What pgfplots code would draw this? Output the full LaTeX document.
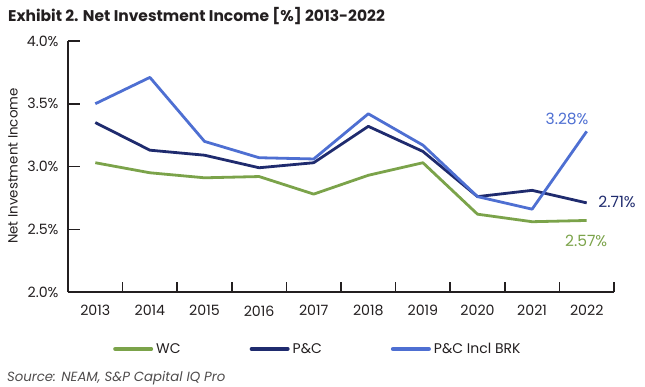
\documentclass[border=0pt]{standalone}
\usepackage{fontspec}
\setmainfont{Poppins}
\usepackage{pgfplots}
\pgfplotsset{compat=1.18}
\definecolor{wcgreen}{HTML}{7BA34A}
\definecolor{pcnavy}{HTML}{1F2B6E}
\definecolor{brkblue}{HTML}{4E6FD2}
\definecolor{txt}{HTML}{231F20}
\begin{document}
\begin{tikzpicture}
\path[use as bounding box] (0,0) rectangle (645pt,-387pt);
\node[anchor=base west, font=\fontsize{15.5}{18}\selectfont\bfseries, text=txt, inner sep=0] at (8pt,-22pt) {Exhibit 2. Net Investment Income [\%] 2013-2022};
\node[rotate=90, font=\fontsize{13.4}{15}\selectfont, text=txt, inner sep=0] at (13pt,-166pt) {Net Investment Income};
\node[anchor=base west, font=\fontsize{13.3}{15}\selectfont\itshape, text=txt!80, inner sep=0] at (7pt,-381pt) {Source: NEAM, S\&P Capital IQ Pro};
\begin{axis}[
  at={(68pt,-292pt)}, anchor=south west,
  scale only axis, width=546pt, height=251pt,
  xmin=-0.5, xmax=9.5, ymin=2.0, ymax=4.0,
  axis x line*=bottom, axis y line*=left,
  axis line style={line width=1.5pt, txt, -},
  xtick={0,...,9},
  xticklabels={2013,2014,2015,2016,2017,2018,2019,2020,2021,2022},
  minor xtick={-0.5,0.5,...,9.5},
  major x tick style={draw=none},
  minor tick length=10pt,
  ytick={2.0,2.5,3.0,3.5,4.0},
  major tick length=12pt,
  tick style={line width=1.5pt, txt},
  tick align=inside,
  yticklabel={\pgfmathprintnumber[fixed,fixed zerofill,precision=1]{\tick}\%},
  /pgf/number format/assume math mode=true,
  ticklabel style={font=\fontsize{14.2}{16}\selectfont, text=txt},
  xticklabel style={yshift=-10pt},
  yticklabel style={xshift=-6pt},
  clip=false,
  legend columns=3,
  legend style={at={(0.0824,-0.227)}, anchor=west, draw=none, fill=none, inner sep=0pt,
    font=\fontsize{14}{16}\selectfont, text=txt,
    /tikz/every odd column/.append style={column sep=1pt},
    /tikz/every even column/.append style={column sep=67pt}},
  legend image code/.code={\draw[#1, line width=4pt, line cap=round] (0pt,0pt) -- (36pt,0pt);},
  every axis plot/.append style={line width=2.8pt, line join=round},
]
\addplot[wcgreen, mark=none] coordinates {
(0,3.03) (1,2.95) (2,2.91) (3,2.92) (4,2.78) (5,2.93) (6,3.03) (7,2.62) (8,2.56) (9,2.57)};
\addlegendentry{WC}
\addplot[pcnavy, mark=none] coordinates {
(0,3.35) (1,3.13) (2,3.09) (3,2.99) (4,3.03) (5,3.32) (6,3.12) (7,2.76) (8,2.81) (9,2.71)};
\addlegendentry{P\&C}
\addplot[brkblue, mark=none] coordinates {
(0,3.50) (1,3.71) (2,3.20) (3,3.07) (4,3.06) (5,3.42) (6,3.17) (7,2.76) (8,2.66) (9,3.28)};
\addlegendentry{P\&C Incl BRK}
\node[font=\fontsize{15.5}{17}\selectfont, text=brkblue] at (axis cs:8.64,3.38) {3.28\%};
\node[anchor=west, inner sep=0, font=\fontsize{15.5}{17}\selectfont, text=pcnavy] at (axis cs:9.21,2.72) {2.71\%};
\node[font=\fontsize{15.5}{17}\selectfont, text=wcgreen] at (axis cs:8.99,2.405) {2.57\%};
\end{axis}
\end{tikzpicture}
\end{document}
